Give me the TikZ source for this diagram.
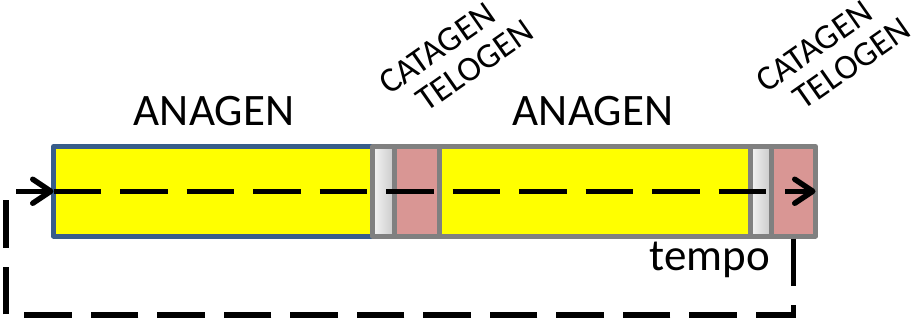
\documentclass[tikz,border=0pt]{standalone}
\usepackage{fontspec}
\setmainfont{Carlito}
\usetikzlibrary{arrows.meta}
\definecolor{bluebd}{HTML}{385D8A}
\definecolor{graybd}{HTML}{808080}
\definecolor{pinkf}{HTML}{D99694}
\definecolor{yel}{HTML}{FFFF00}
\begin{document}
\begin{tikzpicture}[x=1pt,y=-1pt,
  seg/.style={draw=graybd, line width=5pt, line join=round, inner sep=0pt, outer sep=0pt, minimum height=89.5pt, anchor=west},
  anagen/.style={seg, fill=yel},
  catagen/.style={seg, left color=gray!8, right color=gray!42},
  telogen/.style={seg, fill=pinkf},
  flow/.style={line width=5.5pt, dash pattern=on 47.5pt off 19pt, -{Straight Barb[round, length=18pt, width=24pt]}},
  lab/.style={font=\fontsize{45}{54}\selectfont, inner sep=0pt},
  rlab/.style={font=\fontsize{35}{35.5}\selectfont, inner sep=0pt, rotate=35, align=left}]
\useasboundingbox (0,0) rectangle (914,324);
% bar segments
\node[anagen, draw=bluebd, minimum width=319pt] (ana1) at (53.5,191.25) {};
\node[catagen, minimum width=21.5pt] (cat1) at (ana1.east) {};
\node[telogen, minimum width=45.5pt] (tel1) at (cat1.east) {};
\node[anagen, minimum width=310.5pt] (ana2) at (tel1.east) {};
\node[catagen, minimum width=21pt] (cat2) at (ana2.east) {};
\node[telogen, minimum width=44.5pt] (tel2) at (cat2.east) {};
% labels
\node[lab, anchor=base] (t1) at (214,125) {ANAGEN};
\node[lab, anchor=base] (t2) at (593,125) {ANAGEN};
\node[lab, anchor=base] (t3) at (710,270) {tempo};
\node[rlab] (ct1) at (456,57) {CATAGEN\\\hspace*{21pt}TELOGEN};
\node[rlab] (ct2) at (833,55) {CATAGEN\\\hspace*{21pt}TELOGEN};
% arrows
\coordinate (lb) at (6,315);
\draw[flow] (ana1.west) -- (tel2.east);
\draw[flow] ([yshift=-2.5pt]tel2.south) |- (lb) |- (ana1.west);
\end{tikzpicture}
\end{document}
